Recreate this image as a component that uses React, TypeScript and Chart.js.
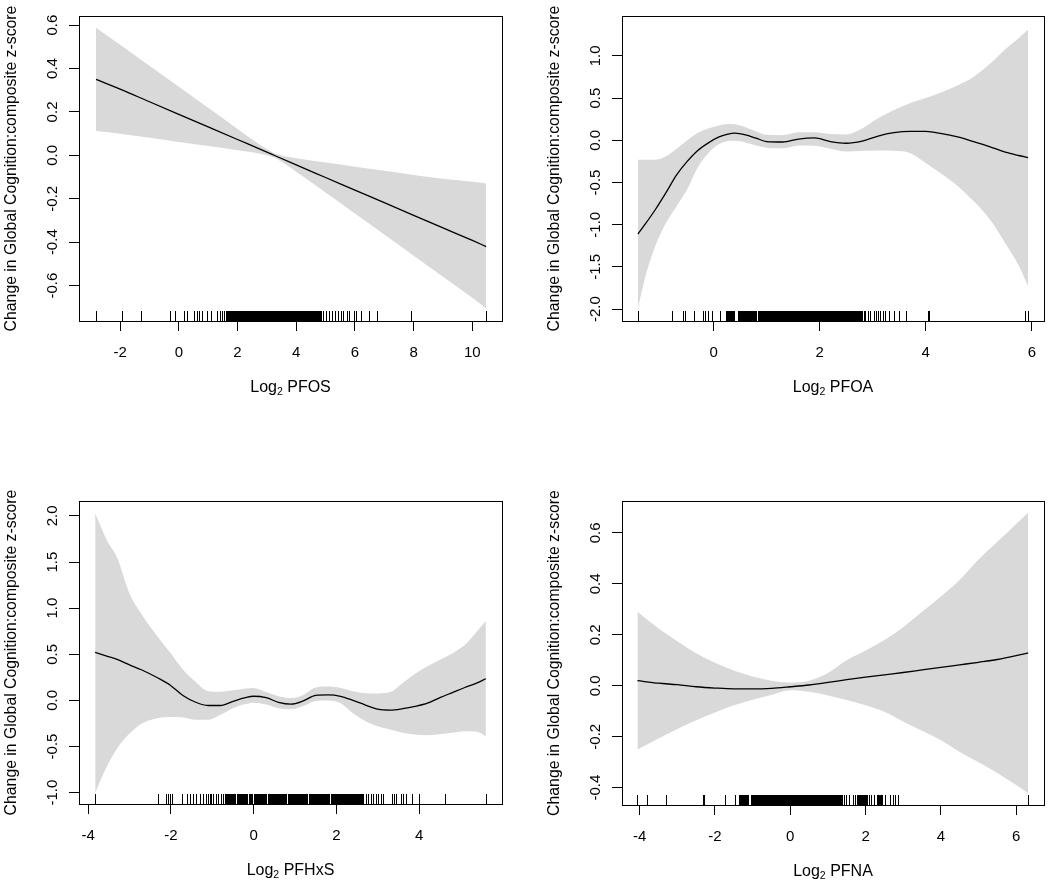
import React, { useEffect, useRef } from 'react';
import { Chart, registerables } from 'chart.js';

Chart.register(...registerables);

const FONT = '"Liberation Sans", Arial, Helvetica, sans-serif';
const BAND = '#d9d9d9';
const Y_TITLE = 'Change in Global Cognition:composite z-score';

// ---------- PFOS ----------
const pfosX = [-2.82, -2, -1, 0, 1, 2, 3, 3.3, 4, 5, 6, 7, 8, 9, 10, 10.47];
const pfosFit = [0.35, 0.305, 0.247, 0.189, 0.131, 0.073, 0.015, -0.003, -0.044, -0.102, -0.16, -0.218, -0.276, -0.334, -0.392, -0.42];
const pfosUpper = [0.588, 0.51, 0.413, 0.316, 0.219, 0.122, 0.029, 0.007, -0.013, -0.033, -0.052, -0.071, -0.09, -0.108, -0.122, -0.13];
const pfosLower = [0.112, 0.1, 0.081, 0.062, 0.043, 0.024, 0.001, -0.013, -0.075, -0.171, -0.268, -0.365, -0.462, -0.559, -0.656, -0.706];
const pfosRug = [-2.82, -1.94, -1.29, -0.3, -0.13, 0.19, 0.29, 0.52, 0.63, 0.7, 0.8, 0.95, 1.09, 1.29, 1.41, 1.47, 1.54, 4.92, 5.02, 5.11, 5.21, 5.32, 5.42, 5.52, 5.61, 5.72, 5.81, 5.97, 6.02, 6.21, 6.47, 6.76, 7.9, 10.47];
const pfosRugDense = [[1.6, 4.84]];
const pfosXTicks = [-2, 0, 2, 4, 6, 8, 10];
const pfosYTicks = [-0.6, -0.4, -0.2, 0.0, 0.2, 0.4, 0.6];
const pfosXRange = [-3.4, 11.01];
const pfosYRange = [-0.763, 0.642];

// ---------- PFOA ----------
const pfoaX = [-1.43, -1.3, -1.1, -0.9, -0.7, -0.5, -0.3, -0.1, 0.1, 0.25, 0.4, 0.6, 0.8, 1.0, 1.3, 1.6, 1.9, 2.2, 2.5, 2.8, 3.1, 3.4, 3.7, 4.0, 4.3, 4.6, 4.9, 5.2, 5.5, 5.75, 5.93];
const pfoaFit = [-1.11, -1.0, -0.82, -0.62, -0.41, -0.25, -0.12, -0.03, 0.04, 0.07, 0.085, 0.065, 0.025, -0.015, -0.02, 0.015, 0.028, -0.015, -0.035, -0.01, 0.05, 0.09, 0.105, 0.105, 0.08, 0.04, -0.016, -0.075, -0.14, -0.18, -0.205];
const pfoaUpper = [-0.23, -0.23, -0.23, -0.19, -0.1, 0.0, 0.09, 0.14, 0.175, 0.193, 0.19, 0.155, 0.105, 0.065, 0.06, 0.095, 0.095, 0.075, 0.07, 0.14, 0.26, 0.36, 0.44, 0.5, 0.57, 0.65, 0.75, 0.9, 1.08, 1.21, 1.31];
const pfoaLower = [-1.99, -1.64, -1.25, -0.98, -0.78, -0.58, -0.32, -0.15, -0.045, -0.01, -0.005, -0.025, -0.06, -0.087, -0.095, -0.06, -0.065, -0.1, -0.133, -0.125, -0.12, -0.125, -0.15, -0.27, -0.4, -0.54, -0.72, -0.93, -1.22, -1.48, -1.73];
const pfoaRug = [-1.43, -0.79, -0.58, -0.54, -0.37, -0.2, -0.16, -0.11, -0.03, 0.11, 2.83, 2.86, 2.91, 2.95, 3.02, 3.06, 3.1, 3.14, 3.19, 3.24, 3.3, 3.4, 3.49, 3.62, 4.04, 4.07, 5.87, 5.93];
const pfoaRugDense = [[0.23, 0.38], [0.46, 0.8], [0.84, 2.8]];
const pfoaXTicks = [0, 2, 4, 6];
const pfoaYTicks = [-2.0, -1.5, -1.0, -0.5, 0.0, 0.5, 1.0];
const pfoaXRange = [-1.73, 6.23];
const pfoaYRange = [-2.141, 1.473];

// ---------- PFHxS ----------
const pfhxsX = [-3.83, -3.55, -3.3, -3.0, -2.7, -2.3, -2.0, -1.7, -1.4, -1.1, -0.8, -0.5, -0.2, 0.0, 0.3, 0.6, 0.9, 1.2, 1.5, 1.8, 2.1, 2.4, 2.7, 3.0, 3.3, 3.6, 3.9, 4.2, 4.5, 4.8, 5.1, 5.4, 5.61];
const pfhxsFit = [0.52, 0.48, 0.445, 0.385, 0.33, 0.24, 0.16, 0.05, -0.02, -0.055, -0.055, -0.01, 0.03, 0.045, 0.03, -0.02, -0.04, -0.005, 0.055, 0.06, 0.045, 0.0, -0.05, -0.095, -0.105, -0.09, -0.065, -0.03, 0.03, 0.085, 0.14, 0.19, 0.235];
const pfhxsUpper = [2.03, 1.74, 1.55, 1.16, 0.93, 0.68, 0.51, 0.33, 0.2, 0.1, 0.095, 0.11, 0.13, 0.135, 0.09, 0.045, 0.025, 0.06, 0.14, 0.15, 0.135, 0.1, 0.078, 0.075, 0.09, 0.19, 0.29, 0.37, 0.44, 0.51, 0.6, 0.75, 0.86];
const pfhxsLower = [-1.0, -0.72, -0.52, -0.36, -0.25, -0.19, -0.18, -0.185, -0.21, -0.21, -0.155, -0.085, -0.04, -0.025, -0.045, -0.085, -0.095, -0.06, -0.005, 0.0, -0.03, -0.14, -0.225, -0.28, -0.315, -0.35, -0.37, -0.378, -0.368, -0.35, -0.335, -0.34, -0.39];
const pfhxsRug = [-3.83, -2.31, -2.11, -2.06, -2.01, -1.98, -1.73, -1.62, -1.54, -1.47, -1.39, -1.3, -1.23, -1.16, -1.1, -1.06, -1.02, -0.98, -0.92, -0.86, -0.8, -0.74, -0.69, 2.64, 2.71, 2.77, 2.83, 2.88, 2.95, 3.01, 3.07, 3.13, 3.34, 3.39, 3.45, 3.55, 3.61, 3.67, 3.83, 4.0, 4.62, 5.61];
const pfhxsRugDense = [[-0.66, -0.44], [-0.4, -0.29], [-0.25, -0.15], [-0.11, -0.03], [0.01, 0.17], [0.21, 0.29], [0.34, 0.42], [0.45, 0.77], [0.84, 1.3], [1.34, 1.82], [1.88, 2.61]];
const pfhxsXTicks = [-4, -2, 0, 2, 4];
const pfhxsYTicks = [-1.0, -0.5, 0.0, 0.5, 1.0, 1.5, 2.0];
const pfhxsXRange = [-4.22, 6.0];
const pfhxsYRange = [-1.123, 2.162];

// ---------- PFNA ----------
const pfnaX = [-4.06, -3.5, -3.0, -2.5, -2.0, -1.5, -1.0, -0.5, 0.0, 0.5, 1.0, 1.5, 2.0, 2.5, 3.0, 3.5, 4.0, 4.5, 5.0, 5.5, 6.0, 6.32];
const pfnaFit = [0.02, 0.01, 0.004, -0.004, -0.009, -0.012, -0.012, -0.01, -0.004, 0.003, 0.013, 0.024, 0.034, 0.043, 0.052, 0.062, 0.072, 0.082, 0.092, 0.103, 0.118, 0.129];
const pfnaUpper = [0.29, 0.225, 0.175, 0.128, 0.09, 0.06, 0.036, 0.02, 0.013, 0.02, 0.05, 0.1, 0.138, 0.18, 0.23, 0.29, 0.35, 0.415, 0.495, 0.565, 0.635, 0.679];
const pfnaLower = [-0.25, -0.207, -0.17, -0.135, -0.105, -0.077, -0.055, -0.036, -0.018, -0.024, -0.038, -0.056, -0.077, -0.102, -0.14, -0.177, -0.214, -0.26, -0.3, -0.342, -0.39, -0.422];
const pfnaRug = [-4.06, -3.81, -3.3, -2.33, -2.28, -1.73, -1.48, 1.42, 1.48, 1.55, 1.66, 1.73, 2.08, 2.15, 2.22, 2.51, 2.66, 2.72, 2.79, 2.86, 6.32];
const pfnaRugDense = [[-1.36, -1.12], [-1.05, -0.54], [-0.5, 1.02], [1.06, 1.37], [1.77, 2.04], [2.3, 2.44]];
const pfnaXTicks = [-4, -2, 0, 2, 4, 6];
const pfnaYTicks = [-0.4, -0.2, 0.0, 0.2, 0.4, 0.6];
const pfnaXRange = [-4.47, 6.74];
const pfnaYRange = [-0.468, 0.725];

type Panel = {
  name: string;
  x: number[];
  fit: number[];
  upper: number[];
  lower: number[];
  rug: number[];
  dense: number[][];
  xTicks: number[];
  yTicks: number[];
  xRange: number[];
  yRange: number[];
};

const panels: Panel[] = [
  { name: 'PFOS', x: pfosX, fit: pfosFit, upper: pfosUpper, lower: pfosLower, rug: pfosRug, dense: pfosRugDense, xTicks: pfosXTicks, yTicks: pfosYTicks, xRange: pfosXRange, yRange: pfosYRange },
  { name: 'PFOA', x: pfoaX, fit: pfoaFit, upper: pfoaUpper, lower: pfoaLower, rug: pfoaRug, dense: pfoaRugDense, xTicks: pfoaXTicks, yTicks: pfoaYTicks, xRange: pfoaXRange, yRange: pfoaYRange },
  { name: 'PFHxS', x: pfhxsX, fit: pfhxsFit, upper: pfhxsUpper, lower: pfhxsLower, rug: pfhxsRug, dense: pfhxsRugDense, xTicks: pfhxsXTicks, yTicks: pfhxsYTicks, xRange: pfhxsXRange, yRange: pfhxsYRange },
  { name: 'PFNA', x: pfnaX, fit: pfnaFit, upper: pfnaUpper, lower: pfnaLower, rug: pfnaRug, dense: pfnaRugDense, xTicks: pfnaXTicks, yTicks: pfnaYTicks, xRange: pfnaXRange, yRange: pfnaYRange },
];

// canvas placement & plot-area padding (layout only)
const CW = 525;
const CH = 443;
const layouts = [
  { left: 0, top: 0, pad: { left: 79, top: 16, right: 23, bottom: 122 } },
  { left: 525, top: 0, pad: { left: 97, top: 16, right: 6, bottom: 122 } },
  { left: 0, top: 443, pad: { left: 79, top: 58, right: 23, bottom: 82 } },
  { left: 525, top: 443, pad: { left: 97, top: 58, right: 6, bottom: 81 } },
];

function makeOverlay(p: Panel) {
  return {
    id: 'rOverlay',
    afterDraw(chart: any) {
      const { ctx, chartArea: a, scales } = chart;
      const xs = scales.x;
      const ys = scales.y;
      const L = Math.round(a.left);
      const R = Math.round(a.right);
      const T = Math.round(a.top);
      const B = Math.round(a.bottom);
      ctx.save();
      // rug
      ctx.strokeStyle = '#000';
      ctx.fillStyle = '#000';
      ctx.lineWidth = 1;
      ctx.beginPath();
      for (const v of p.rug) {
        const px = Math.round(xs.getPixelForValue(v)) + 0.5;
        ctx.moveTo(px, B);
        ctx.lineTo(px, B - 10);
      }
      ctx.stroke();
      for (const [b0, b1] of p.dense) {
        const x0 = Math.round(xs.getPixelForValue(b0));
        const x1 = Math.round(xs.getPixelForValue(b1));
        ctx.fillRect(x0, B - 10, Math.max(1, x1 - x0 + 1), 10);
      }
      // box
      ctx.strokeRect(L + 0.5, T + 0.5, R - L, B - T);
      // tick labels
      ctx.font = `15px ${FONT}`;
      ctx.textAlign = 'center';
      ctx.textBaseline = 'alphabetic';
      for (const v of p.xTicks) {
        ctx.fillText(String(v), xs.getPixelForValue(v), B + 36);
      }
      for (const v of p.yTicks) {
        ctx.save();
        ctx.translate(L - 22.5, ys.getPixelForValue(v));
        ctx.rotate(-Math.PI / 2);
        ctx.fillText(v.toFixed(1), 0, 0);
        ctx.restore();
      }
      // y title
      ctx.save();
      ctx.font = `15.8px ${FONT}`;
      ctx.translate(L - 63, (T + B) / 2);
      ctx.rotate(-Math.PI / 2);
      ctx.fillText(Y_TITLE, 0, 0);
      ctx.restore();
      // x title with subscript
      const mainFont = `16px ${FONT}`;
      const subFont = `10.5px ${FONT}`;
      const t1 = 'Log';
      const t2 = '2';
      const t3 = ' ' + p.name;
      ctx.font = mainFont;
      const w1 = ctx.measureText(t1).width;
      const w3 = ctx.measureText(t3).width;
      ctx.font = subFont;
      const w2 = ctx.measureText(t2).width;
      const cx = (L + R) / 2;
      const base = B + 71;
      let x = cx - (w1 + w2 + w3) / 2;
      ctx.textAlign = 'left';
      ctx.font = mainFont;
      ctx.fillText(t1, x, base);
      x += w1;
      ctx.font = subFont;
      ctx.fillText(t2, x, base + 3);
      x += w2;
      ctx.font = mainFont;
      ctx.fillText(t3, x, base);
      ctx.restore();
    },
  };
}

function PanelChart({ p, lay }: { p: Panel; lay: (typeof layouts)[number] }) {
  const ref = useRef<HTMLCanvasElement | null>(null);
  useEffect(() => {
    if (!ref.current) return;
    const pts = (ys: number[]) => p.x.map((x, i) => ({ x, y: ys[i] }));
    const axisCommon = {
      type: 'linear' as const,
      ticks: { display: false },
      grid: { drawOnChartArea: false, drawTicks: true, tickLength: 10, color: '#000', lineWidth: 1 },
      border: { display: false },
    };
    const chart = new Chart(ref.current, {
      type: 'line',
      data: {
        datasets: [
          { data: pts(p.fit), borderColor: '#000', borderWidth: 1.3, pointRadius: 0, fill: false, cubicInterpolationMode: 'monotone' },
          { data: pts(p.upper), borderColor: 'rgba(0,0,0,0)', borderWidth: 1, pointRadius: 0, fill: false, cubicInterpolationMode: 'monotone' },
          { data: pts(p.lower), borderColor: 'rgba(0,0,0,0)', borderWidth: 1, pointRadius: 0, fill: '-1', backgroundColor: BAND, cubicInterpolationMode: 'monotone' },
        ],
      } as any,
      options: {
        animation: false,
        responsive: false,
        maintainAspectRatio: false,
        events: [],
        layout: { padding: lay.pad },
        plugins: { legend: { display: false }, tooltip: { enabled: false }, title: { display: false } },
        scales: {
          x: {
            ...axisCommon,
            min: p.xRange[0],
            max: p.xRange[1],
            afterBuildTicks: (s: any) => { s.ticks = p.xTicks.map((v) => ({ value: v })); },
            afterFit: (s: any) => { s.height = 0; },
          },
          y: {
            ...axisCommon,
            min: p.yRange[0],
            max: p.yRange[1],
            afterBuildTicks: (s: any) => { s.ticks = p.yTicks.map((v) => ({ value: v })); },
            afterFit: (s: any) => { s.width = 0; },
          },
        },
      } as any,
      plugins: [makeOverlay(p)],
    });
    return () => chart.destroy();
  }, [p, lay]);
  return (
    <canvas
      ref={ref}
      width={CW}
      height={CH}
      style={{ position: 'absolute', left: lay.left, top: lay.top, width: CW, height: CH }}
    />
  );
}

export default function App() {
  useEffect(() => {
    document.body.style.margin = '0';
    document.body.style.background = '#fff';
  }, []);
  return (
    <div style={{ position: 'relative', width: 1050, height: 886, background: '#fff', overflow: 'hidden' }}>
      {panels.map((p, i) => (
        <PanelChart key={p.name} p={p} lay={layouts[i]} />
      ))}
    </div>
  );
}
